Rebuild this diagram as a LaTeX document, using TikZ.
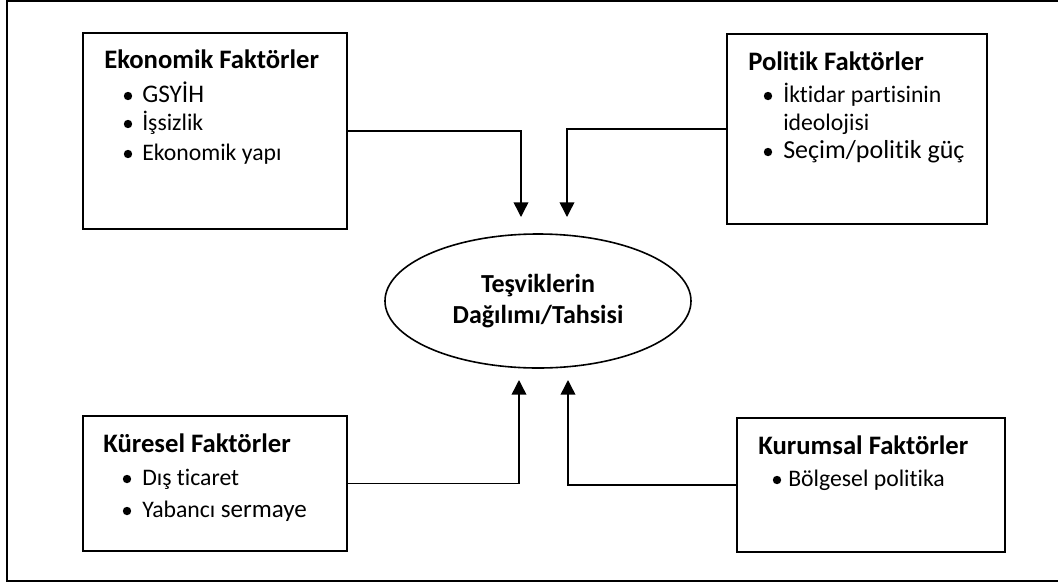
\documentclass[tikz,border=0pt]{standalone}
\usepackage{fontspec}
\setmainfont{Carlito}[Ligatures={NoCommon,NoContextual}]
\usetikzlibrary{arrows.meta,shapes.geometric}
\begin{document}
\begin{tikzpicture}[x=0.75pt,y=-0.75pt,
  txt/.style={font=\fontsize{17.8}{23.25}\selectfont},
  box/.style={draw, line width=1.5pt, rectangle, inner sep=0pt},
  ell/.style={draw, line width=1.2pt, ellipse, inner sep=0pt, align=center,
    font=\fontsize{19.5}{23.25}\selectfont\bfseries},
  head/.style={anchor=base west, inner sep=0pt, font=\fontsize{20}{24}\selectfont\bfseries},
  item/.style={anchor=base west, inner sep=0pt, txt},
  dot/.style={circle, fill, inner sep=0pt, minimum size=6.3pt},
  conn/.style={line width=1.1pt, -{Triangle[length=11pt,width=11pt]}},
  frame/.style={line width=1.5pt}
]
\useasboundingbox (0,0) rectangle (1058,583);
\draw[frame] (1063,1) -- (7,1) -- (7,581) -- (1063,581);

% boxes
\node[box, minimum width=264*0.75pt, minimum height=196*0.75pt] (eko) at (215,131) {};
\node[box, minimum width=260*0.75pt, minimum height=190*0.75pt] (pol) at (857,129) {};
\node[box, minimum width=264*0.75pt, minimum height=135*0.75pt] (kures) at (215,483.5) {};
\node[box, minimum width=268*0.75pt, minimum height=134*0.75pt] (kurum) at (871,485) {};
\node[ell, minimum width=306*0.75pt, minimum height=134*0.75pt] (c) at (538,301) {Teşviklerin\\Dağılımı/Tahsisi};

% Ekonomik
\node[head] (ekoh) at (104,68) {Ekonomik Faktörler};
\node[dot] (ed1) at (128,96) {};
\node[item, font=\fontsize{19}{23.25}\selectfont] (ei1) at (142,102) {GSYİH};
\node[dot] (ed2) at (128,124) {};
\node[item] (ei2) at (142,130) {İşsizlik};
\node[dot] (ed3) at (128,154) {};
\node[item] (ei3) at (142,160) {Ekonomik yapı};

% Politik
\node[head] (polh) at (748,70) {Politik Faktörler};
\node[dot] (pd1) at (768,96) {};
\node[item] (pi1) at (783,102) {İktidar partisinin};
\node[item] (pi1b) at (783,130) {ideolojisi};
\node[dot] (pd2) at (768,152) {};
\node[item, font=\fontsize{19.5}{23.25}\selectfont] (pi2) at (783,158) {Seçim/politik güç};

% Kuresel
\node[head] (kuresh) at (103,452) {Küresel Faktörler};
\node[dot] (kd1) at (127,479) {};
\node[item] (ki1) at (142,485) {Dış ticaret};
\node[dot] (kd2) at (127,511) {};
\node[item] (ki2) at (142,517) {Yabancı {\fontsize{18.8}{23.25}\selectfont sermaye}};

% Kurumsal
\node[head] (kurumh) at (758,454) {Kurumsal Faktörler};
\node[dot] (md1) at (777,480) {};
\node[item] (mi1) at (788,486) {Bölgesel politika};

% connectors
\coordinate (t1) at (521,217);
\coordinate (t2) at (567,217);
\coordinate (b1) at (519,380);
\coordinate (b2) at (568,380);
\draw[conn] (eko.east) -| (t1);
\draw[conn] (pol.west) -| (t2);
\draw[conn] (kures.east) -| (b1);
\draw[conn] (kurum.west) -| (b2);
\end{tikzpicture}
\end{document}
